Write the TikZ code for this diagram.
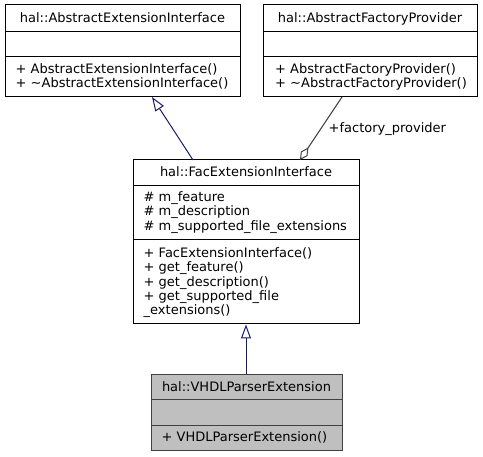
\documentclass[tikz,border=0pt]{standalone}
\usepackage{fontspec}
\setmainfont{DejaVu Sans}
\usetikzlibrary{arrows.meta}
\definecolor{navyline}{RGB}{25,25,112}
\definecolor{grayline}{RGB}{64,64,64}
\definecolor{grayfill}{RGB}{191,191,191}
\begin{document}
\begin{tikzpicture}[x=1pt,y=-1pt,
  lbl/.style={inner sep=0pt,font=\fontsize{13}{14.3}\selectfont},
  ttl/.style={lbl,anchor=base},
  mem/.style={lbl,anchor=base west},
  boxline/.style={draw=black,line width=1pt},
  inherit/.style={draw=navyline,line width=1pt,-{Triangle[open,length=14pt,width=10pt]}},
  aggr/.style={draw=grayline,line width=1pt,{Diamond[open,length=15pt,width=8pt]}-}]
\useasboundingbox (0,0) rectangle (483,457);
% Box A
\node[boxline,fill=white,minimum width=235pt,minimum height=92pt,inner sep=0pt] (A) at (122.5,51) {};
\draw[boxline] (5,32) -- (240,32) (5,57) -- (240,57);
\node[ttl] (At) at (122.5,23) {hal::AbstractExtensionInterface};
\node[mem] (Am1) at (15.5,73.5) {+ AbstractExtensionInterface()};
\node[mem] (Am2) at (15.5,87.5) {+ \char"007E AbstractExtensionInterface()};
% Box B
\node[boxline,fill=white,minimum width=214pt,minimum height=92pt,inner sep=0pt] (B) at (370,51) {};
\draw[boxline] (263,32) -- (477,32) (263,57) -- (477,57);
\node[ttl] (Bt) at (370,23) {hal::AbstractFactoryProvider};
\node[mem] (Bm1) at (275,73.5) {+ AbstractFactoryProvider()};
\node[mem] (Bm2) at (275,87.5) {+ \char"007E AbstractFactoryProvider()};
% Box C
\node[boxline,fill=white,minimum width=226pt,minimum height=164pt,inner sep=0pt] (C) at (246,242) {};
\draw[boxline] (133,186) -- (359,186) (133,240) -- (359,240);
\node[ttl] (Ct) at (246,176.5) {hal::FacExtensionInterface};
\node[mem] (Ca1) at (143.5,201.5) {\# m\_feature};
\node[mem] (Ca2) at (143.5,215.8) {\# m\_description};
\node[mem] (Ca3) at (143.5,230.1) {\# m\_supported\_file\_extensions};
\node[mem] (Cm1) at (143.5,257.5) {+ FacExtensionInterface()};
\node[mem] (Cm2) at (143.5,271.8) {+ get\_feature()};
\node[mem] (Cm3) at (143.5,286.1) {+ get\_description()};
\node[mem] (Cm4) at (143.5,300.4) {+ get\_supported\_file};
\node[mem] (Cm5) at (143.5,314.7) {\_extensions()};
% Box D
\node[draw=grayline,line width=1pt,fill=grayfill,minimum width=191pt,minimum height=76pt,inner sep=0pt] (D) at (246.5,413) {};
\draw[draw=grayline,line width=1pt] (151,400) -- (342,400) (151,426) -- (342,426);
\node[ttl] (Dt) at (246.5,391.5) {hal::VHDLParserExtension};
\node[mem] (Dm1) at (161.5,441.5) {+ VHDLParserExtension()};
% connectors
\coordinate (CfromA) at (193,160);
\coordinate (AtipC) at (152,97);
\draw[inherit] (CfromA) -- (AtipC);
\draw[inherit] (D.north -| 246,0) -- (C.south -| 246,0);
\coordinate (CdiaTip) at (300,160);
\coordinate (BfromC) at (342,97);
\draw[aggr] (CdiaTip) -- (BfromC);
\node[mem] (agglbl) at (328.5,132.5) {+factory\_provider};
\end{tikzpicture}
\end{document}
